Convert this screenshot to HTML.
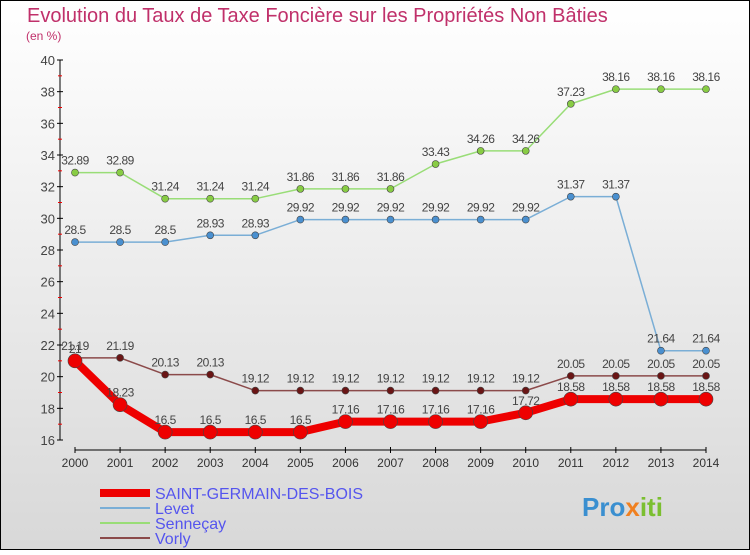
<!DOCTYPE html>
<html><head><meta charset="utf-8"><style>
body{margin:0}
#c{width:750px;height:550px;position:relative;font-family:"Liberation Sans",sans-serif;}
</style></head><body>
<div id="c">
<svg id="s" width="750" height="550" xmlns="http://www.w3.org/2000/svg">
<defs><linearGradient id="bg" x1="0" y1="0" x2="0" y2="1"><stop offset="0" stop-color="#ffffff"/><stop offset="1" stop-color="#d8d8d8"/></linearGradient></defs>
<rect x="0.5" y="0.5" width="749" height="549" fill="url(#bg)" stroke="#000"/>
<text x="27" y="22" font-size="20" fill="#c0306a">Evolution du Taux de Taxe Foncière sur les Propriétés Non Bâties</text>
<text x="26" y="40" font-size="12" fill="#c0306a">(en %)</text>
<g id="axes"></g><g id="series"></g>
<g>
<line x1="100" y1="493" x2="150" y2="493" stroke="#e00" stroke-width="8"/>
<text x="155" y="499" font-size="16" fill="#5555ee">SAINT-GERMAIN-DES-BOIS</text>
<line x1="100" y1="508" x2="150" y2="508" stroke="#7aaed6" stroke-width="2"/>
<text x="155" y="514" font-size="16" fill="#5555ee">Levet</text>
<line x1="100" y1="523" x2="150" y2="523" stroke="#99dd77" stroke-width="2"/>
<text x="155" y="529" font-size="16" fill="#5555ee">Senneçay</text>
<line x1="100" y1="538" x2="150" y2="538" stroke="#8b4a4a" stroke-width="2"/>
<text x="155" y="544" font-size="16" fill="#5555ee">Vorly</text>
</g>
<text x="582" y="516" font-size="26" font-weight="bold" fill="#3a8fd0">Pro<tspan fill="#f08020">x</tspan><tspan fill="#7bbf30">iti</tspan></text>
</svg></div>
<script>
const years=[2000,2001,2002,2003,2004,2005,2006,2007,2008,2009,2010,2011,2012,2013,2014];
const yTicks=[16,18,20,22,24,26,28,30,32,34,36,38,40];
const saintGermain=[21,18.23,16.5,16.5,16.5,16.5,17.16,17.16,17.16,17.16,17.72,18.58,18.58,18.58,18.58];
const levet=[28.5,28.5,28.5,28.93,28.93,29.92,29.92,29.92,29.92,29.92,29.92,31.37,31.37,21.64,21.64];
const sennecay=[32.89,32.89,31.24,31.24,31.24,31.86,31.86,31.86,33.43,34.26,34.26,37.23,38.16,38.16,38.16];
const vorly=[21.19,21.19,20.13,20.13,19.12,19.12,19.12,19.12,19.12,19.12,19.12,20.05,20.05,20.05,20.05];
const NS="http://www.w3.org/2000/svg";
const xs=i=>75+i*(706-75)/(years.length-1);
const ys=v=>440-(v-16)*(440-60)/24;
function mk(t,a,p){const e=document.createElementNS(NS,t);for(const k in a)e.setAttribute(k,a[k]);p.appendChild(e);return e;}
const ax=document.getElementById('axes');
let yl=mk('line',{x1:60,y1:ys(40),x2:60,y2:ys(16),stroke:'#000'},ax);


yTicks.forEach(v=>{mk('line',{x1:57,y1:ys(v),x2:63,y2:ys(v),stroke:'#000'},ax);
 let t=mk('text',{x:55,y:ys(v)+5,'font-size':13,fill:'#444','text-anchor':'end'},ax);t.textContent=v;
 
 
 if(v<40)mk('line',{x1:58,y1:ys(v+1),x2:62,y2:ys(v+1),stroke:'#e00'},ax);});
let xl=mk('line',{x1:xs(0),y1:450,x2:xs(14),y2:450,stroke:'#000'},ax);


years.forEach((y,i)=>{mk('line',{x1:xs(i),y1:447,x2:xs(i),y2:453,stroke:'#000'},ax);
 let t=mk('text',{x:xs(i),y:467,'font-size':12,fill:'#333','text-anchor':'middle'},ax);t.textContent=y;
 
 });
const sg=document.getElementById('series');
function series(name,vals,col,w,r,dot){
 const g=mk('g',{},sg);
 
 
 const p=mk('polyline',{points:vals.map((v,i)=>xs(i)+','+ys(v)).join(' '),fill:'none',stroke:col,'stroke-width':w,'stroke-linejoin':'round'},g);
 
 
 vals.forEach((v,i)=>{const c=mk('circle',{cx:xs(i),cy:ys(v),r:r,fill:dot,stroke:'#444','stroke-width':0.6},g);
  
  
  const t=mk('text',{x:xs(i),y:ys(v)-8,'font-size':12,fill:'#444','text-anchor':'middle','letter-spacing':'-0.5'},g);t.textContent=v;
  
  });
}
series('sennecay',sennecay,'#99dd77',1.5,3.5,'#88cc44');
series('levet',levet,'#7aaed6',1.5,3.5,'#4a90d0');
series('vorly',vorly,'#8b4a4a',1.5,3.5,'#6a1515');
series('saint-germain',saintGermain,'#ee0000',8,7,'#ee0000');
</script>
</body></html>
